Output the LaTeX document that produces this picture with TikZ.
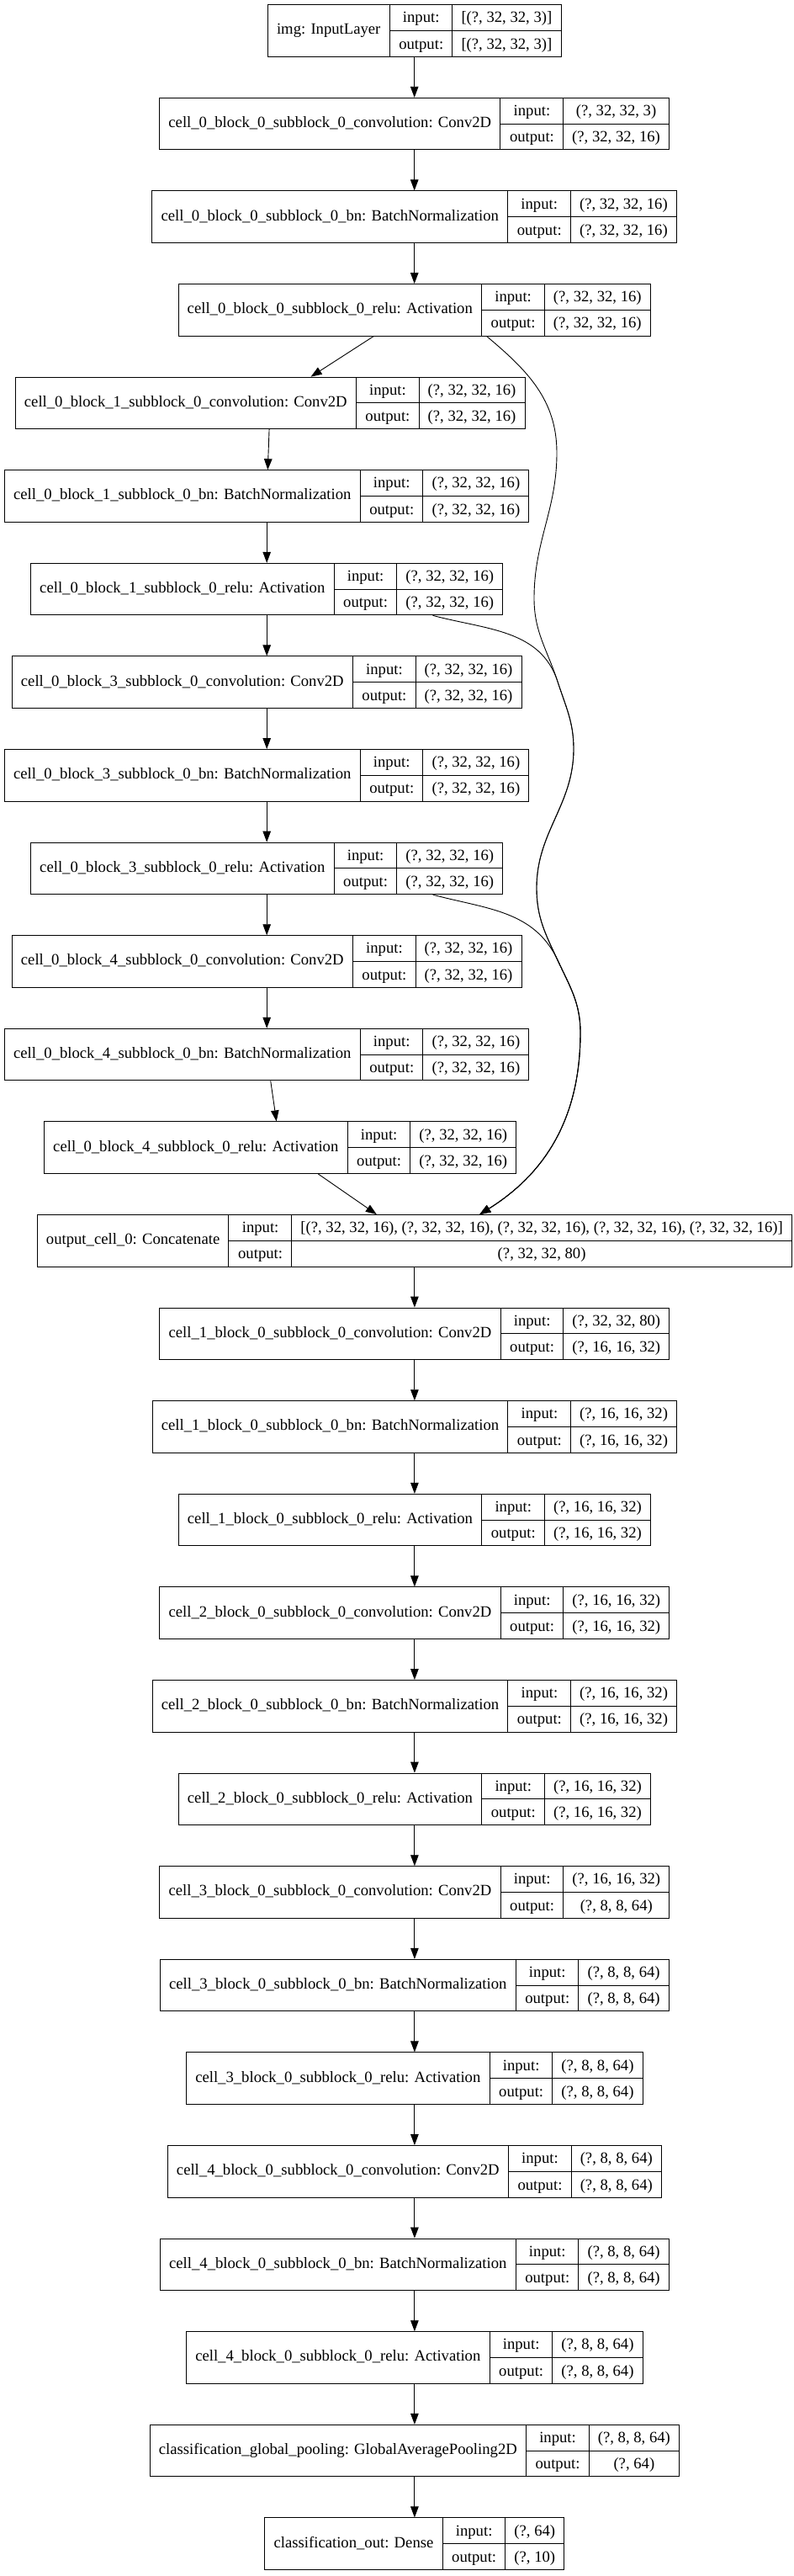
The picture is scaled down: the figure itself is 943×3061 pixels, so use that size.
\documentclass[tikz,border=0pt]{standalone}
\usepackage{fontspec}
\setmainfont{Liberation Serif}
\usetikzlibrary{positioning,arrows.meta}
\setlength{\tabcolsep}{10.67pt}
\setlength{\arrayrulewidth}{1pt}
\newcommand{\layerbox}[3]{%
  \begin{tabular}{c|@{}c@{}}
    #1 & \begin{tabular}{c|c}
      input: & #2\\ \hline
      output: & #3
    \end{tabular}
  \end{tabular}}
\begin{document}
\begin{tikzpicture}[x=1pt, y=1pt, node distance=110.6pt]
        \tikzstyle{layer}=[rectangle, draw, line width=1pt, inner sep=0pt, font=\fontsize{18.67}{30.25}\selectfont];
        \tikzstyle{edge}=[-{Triangle[length=13pt,width=9.5pt]}, line width=0.9pt];
        \useasboundingbox (0,0) rectangle (943,-3061);
        \node[layer] (img) at (492.7,-36.5) {\layerbox{img: InputLayer}{[(?, 32, 32, 3)]}{[(?, 32, 32, 3)]}};
        \node[layer, below of=img] (c0conv0) {\layerbox{cell\_0\_block\_0\_subblock\_0\_convolution: Conv2D}{(?, 32, 32, 3)}{(?, 32, 32, 16)}};
        \node[layer, below of=c0conv0] (c0bn0) {\layerbox{cell\_0\_block\_0\_subblock\_0\_bn: BatchNormalization}{(?, 32, 32, 16)}{(?, 32, 32, 16)}};
        \node[layer, below of=c0bn0] (c0relu0) {\layerbox{cell\_0\_block\_0\_subblock\_0\_relu: Activation}{(?, 32, 32, 16)}{(?, 32, 32, 16)}};
        \node[layer, below of=c0relu0, xshift=-171.5pt] (c0conv1) {\layerbox{cell\_0\_block\_1\_subblock\_0\_convolution: Conv2D}{(?, 32, 32, 16)}{(?, 32, 32, 16)}};
        \node[layer, below of=c0conv1, xshift=-4pt] (c0bn1) {\layerbox{cell\_0\_block\_1\_subblock\_0\_bn: BatchNormalization}{(?, 32, 32, 16)}{(?, 32, 32, 16)}};
        \node[layer, below of=c0bn1] (c0relu1) {\layerbox{cell\_0\_block\_1\_subblock\_0\_relu: Activation}{(?, 32, 32, 16)}{(?, 32, 32, 16)}};
        \node[layer, below of=c0relu1] (c0conv3) {\layerbox{cell\_0\_block\_3\_subblock\_0\_convolution: Conv2D}{(?, 32, 32, 16)}{(?, 32, 32, 16)}};
        \node[layer, below of=c0conv3] (c0bn3) {\layerbox{cell\_0\_block\_3\_subblock\_0\_bn: BatchNormalization}{(?, 32, 32, 16)}{(?, 32, 32, 16)}};
        \node[layer, below of=c0bn3] (c0relu3) {\layerbox{cell\_0\_block\_3\_subblock\_0\_relu: Activation}{(?, 32, 32, 16)}{(?, 32, 32, 16)}};
        \node[layer, below of=c0relu3] (c0conv4) {\layerbox{cell\_0\_block\_4\_subblock\_0\_convolution: Conv2D}{(?, 32, 32, 16)}{(?, 32, 32, 16)}};
        \node[layer, below of=c0conv4] (c0bn4) {\layerbox{cell\_0\_block\_4\_subblock\_0\_bn: BatchNormalization}{(?, 32, 32, 16)}{(?, 32, 32, 16)}};
        \node[layer, below of=c0bn4, xshift=16pt] (c0relu4) {\layerbox{cell\_0\_block\_4\_subblock\_0\_relu: Activation}{(?, 32, 32, 16)}{(?, 32, 32, 16)}};
        \node[layer, below of=c0relu4, xshift=159.7pt] (cat0) {\layerbox{output\_cell\_0: Concatenate}{[(?, 32, 32, 16), (?, 32, 32, 16), (?, 32, 32, 16), (?, 32, 32, 16), (?, 32, 32, 16)]}{(?, 32, 32, 80)}};
        \node[layer, below of=cat0] (c1conv) {\layerbox{cell\_1\_block\_0\_subblock\_0\_convolution: Conv2D}{(?, 32, 32, 80)}{(?, 16, 16, 32)}};
        \node[layer, below of=c1conv] (c1bn) {\layerbox{cell\_1\_block\_0\_subblock\_0\_bn: BatchNormalization}{(?, 16, 16, 32)}{(?, 16, 16, 32)}};
        \node[layer, below of=c1bn] (c1relu) {\layerbox{cell\_1\_block\_0\_subblock\_0\_relu: Activation}{(?, 16, 16, 32)}{(?, 16, 16, 32)}};
        \node[layer, below of=c1relu] (c2conv) {\layerbox{cell\_2\_block\_0\_subblock\_0\_convolution: Conv2D}{(?, 16, 16, 32)}{(?, 16, 16, 32)}};
        \node[layer, below of=c2conv] (c2bn) {\layerbox{cell\_2\_block\_0\_subblock\_0\_bn: BatchNormalization}{(?, 16, 16, 32)}{(?, 16, 16, 32)}};
        \node[layer, below of=c2bn] (c2relu) {\layerbox{cell\_2\_block\_0\_subblock\_0\_relu: Activation}{(?, 16, 16, 32)}{(?, 16, 16, 32)}};
        \node[layer, below of=c2relu] (c3conv) {\layerbox{cell\_3\_block\_0\_subblock\_0\_convolution: Conv2D}{(?, 16, 16, 32)}{(?, 8, 8, 64)}};
        \node[layer, below of=c3conv] (c3bn) {\layerbox{cell\_3\_block\_0\_subblock\_0\_bn: BatchNormalization}{(?, 8, 8, 64)}{(?, 8, 8, 64)}};
        \node[layer, below of=c3bn] (c3relu) {\layerbox{cell\_3\_block\_0\_subblock\_0\_relu: Activation}{(?, 8, 8, 64)}{(?, 8, 8, 64)}};
        \node[layer, below of=c3relu] (c4conv) {\layerbox{cell\_4\_block\_0\_subblock\_0\_convolution: Conv2D}{(?, 8, 8, 64)}{(?, 8, 8, 64)}};
        \node[layer, below of=c4conv] (c4bn) {\layerbox{cell\_4\_block\_0\_subblock\_0\_bn: BatchNormalization}{(?, 8, 8, 64)}{(?, 8, 8, 64)}};
        \node[layer, below of=c4bn] (c4relu) {\layerbox{cell\_4\_block\_0\_subblock\_0\_relu: Activation}{(?, 8, 8, 64)}{(?, 8, 8, 64)}};
        \node[layer, below of=c4relu] (pool) {\layerbox{classification\_global\_pooling: GlobalAveragePooling2D}{(?, 8, 8, 64)}{(?, 64)}};
        \node[layer, below of=pool] (dense) {\layerbox{classification\_out: Dense}{(?, 64)}{(?, 10)}};
        % bends of the skip connections
        \coordinate (w1) at (662,-538);
        \coordinate (w2) at (635,-711);
        \coordinate (m1) at (663,-810);
        \coordinate (w3) at (682,-890);
        \coordinate (w4) at (638,-1055);
        \coordinate (m2) at (663,-1141);
        \coordinate (w5) at (690,-1227);
        \draw[edge] (img) -- (c0conv0);
        \draw[edge] (c0conv0) -- (c0bn0);
        \draw[edge] (c0bn0) -- (c0relu0);
        \draw[edge] (c0relu0) -- (c0conv1);
        \draw[edge] (c0conv1) -- (c0bn1);
        \draw[edge] (c0bn1) -- (c0relu1);
        \draw[edge] (c0relu1) -- (c0conv3);
        \draw[edge] (c0conv3) -- (c0bn3);
        \draw[edge] (c0bn3) -- (c0relu3);
        \draw[edge] (c0relu3) -- (c0conv4);
        \draw[edge] (c0conv4) -- (c0bn4);
        \draw[edge] (c0bn4) -- (c0relu4);
        \draw[edge] (c0relu4) -- (cat0);
        \draw[edge] (c0relu0.-20) to[out=-40,in=90] (w1) to[out=-90,in=90] (w2) to[out=-90,in=108] (m1) to[out=-72,in=90] (w3) to[out=-90,in=90] (w4) to[out=-90,in=115] (m2) to[out=-65,in=90] (w5) to[out=-90,in=32] (cat0.22);
        \draw[edge] (c0relu1.-9.5) to[out=-15,in=108] (m1) to[out=-72,in=90] (w3) to[out=-90,in=90] (w4) to[out=-90,in=115] (m2) to[out=-65,in=90] (w5) to[out=-90,in=32] (cat0.22);
        \draw[edge] (c0relu3.-9.5) to[out=-15,in=115] (m2) to[out=-65,in=90] (w5) to[out=-90,in=32] (cat0.22);
        \draw[edge] (cat0) -- (c1conv);
        \draw[edge] (c1conv) -- (c1bn);
        \draw[edge] (c1bn) -- (c1relu);
        \draw[edge] (c1relu) -- (c2conv);
        \draw[edge] (c2conv) -- (c2bn);
        \draw[edge] (c2bn) -- (c2relu);
        \draw[edge] (c2relu) -- (c3conv);
        \draw[edge] (c3conv) -- (c3bn);
        \draw[edge] (c3bn) -- (c3relu);
        \draw[edge] (c3relu) -- (c4conv);
        \draw[edge] (c4conv) -- (c4bn);
        \draw[edge] (c4bn) -- (c4relu);
        \draw[edge] (c4relu) -- (pool);
        \draw[edge] (pool) -- (dense);
    \end{tikzpicture}
\end{document}
